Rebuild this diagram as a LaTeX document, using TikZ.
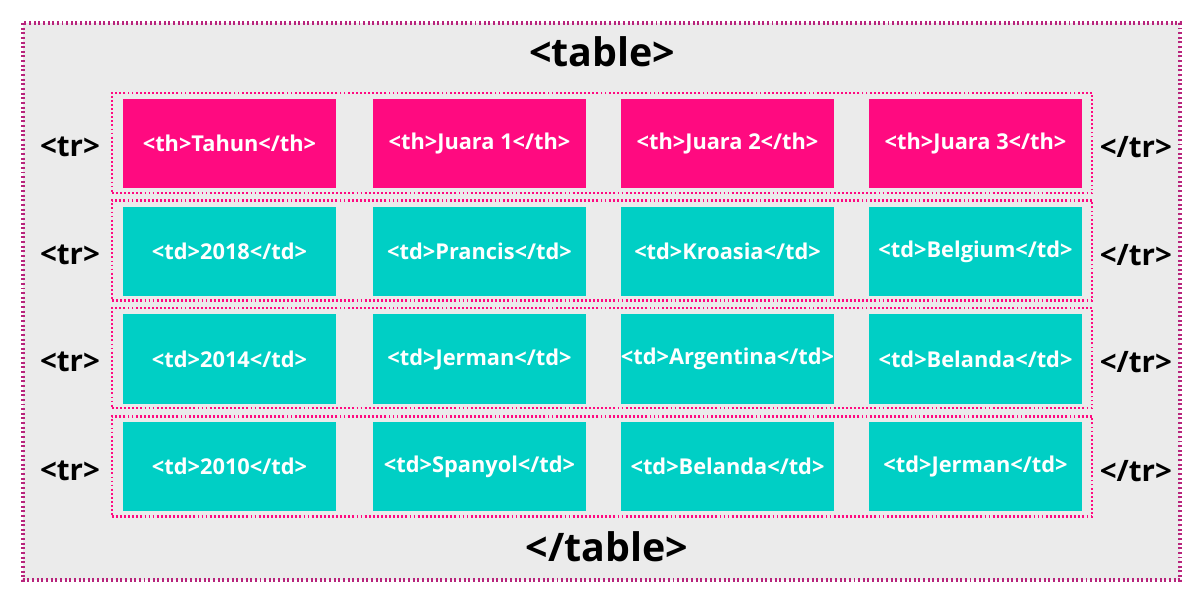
\documentclass[tikz,border=0pt]{standalone}
\usepackage{fontspec}
\setmainfont{Open Sans}
\usetikzlibrary{positioning}
\definecolor{hotpink}{HTML}{FF0A80}
\definecolor{plum}{HTML}{B8247C}
\definecolor{aqua}{HTML}{00CFC5}
\definecolor{ltgray}{HTML}{EBEBEB}

\begin{document}
\begin{tikzpicture}[
  x=0.025cm, y=-0.025cm,
  headcell/.style={
    fill=hotpink, minimum width=5.325cm, minimum height=2.225cm,
    inner sep=0pt, text=white, font=\fontsize{15.5}{18}\selectfont\bfseries
  },
  datacell/.style={
    headcell, fill=aqua
  },
  rowframe/.style={
    draw=hotpink, line width=1.9pt, dash pattern=on 1.3pt off 1.6pt,
    minimum width=24.5cm, minimum height=2.5cm, inner sep=0pt
  },
  taglbl/.style={font=\fontsize{21}{24}\selectfont\bfseries, text=black, yshift=-3pt},
]

% Background
\useasboundingbox (0,0) rectangle (1200,600);
\fill[ltgray] (23,23) rectangle (1180,580);
\draw[plum, line width=2.2pt, dash pattern=on 1.4pt off 1.9pt] (23,23) rectangle (1180,580);

% Title tags
\node[font=\fontsize{28}{32}\selectfont\bfseries] (open) at (602,52) {<table>};
\node[font=\fontsize{28}{32}\selectfont\bfseries] (close) at (607,547) {</table>};

% =============================================
% Row frames
% =============================================
\node[rowframe] (row1) at (602,143) {};
\node[rowframe] (row2) at (602,250.5) {};
\node[rowframe] (row3) at (602,358) {};
\node[rowframe] (row4) at (602,466.5) {};

% Row tags
\node[taglbl, left=4pt of row1.west] (tr1) {<tr>};
\node[taglbl, left=4pt of row2.west] (tr2) {<tr>};
\node[taglbl, left=4pt of row3.west] (tr3) {<tr>};
\node[taglbl, left=4pt of row4.west] (tr4) {<tr>};
\node[taglbl, right=1pt of row1.east] (etr1) {</tr>};
\node[taglbl, right=1pt of row2.east] (etr2) {</tr>};
\node[taglbl, right=1pt of row3.east] (etr3) {</tr>};
\node[taglbl, right=1pt of row4.east] (etr4) {</tr>};

% =============================================
% Header row
% =============================================
\node[headcell] (th1) at (229.5,143.5) {<th>Tahun</th>};
\node[headcell] (th2) at (479.5,143.5) {<th>Juara 1</th>};
\node[headcell] (th3) at (727.5,143.5) {<th>Juara 2</th>};
\node[headcell] (th4) at (975.5,143.5) {<th>Juara 3</th>};

% =============================================
% Data rows
% =============================================
\node[datacell] (a1) at (229.5,251.5) {<td>2018</td>};
\node[datacell] (a2) at (479.5,251.5) {<td>Prancis</td>};
\node[datacell] (a3) at (727.5,251.5) {<td>Kroasia</td>};
\node[datacell] (a4) at (975.5,251.5) {<td>Belgium</td>};

\node[datacell] (b1) at (229.5,359) {<td>2014</td>};
\node[datacell] (b2) at (479.5,359) {<td>Jerman</td>};
\node[datacell] (b3) at (727.5,359) {<td>Argentina</td>};
\node[datacell] (b4) at (975.5,359) {<td>Belanda</td>};

\node[datacell] (c1) at (229.5,466.5) {<td>2010</td>};
\node[datacell] (c2) at (479.5,466.5) {<td>Spanyol</td>};
\node[datacell] (c3) at (727.5,466.5) {<td>Belanda</td>};
\node[datacell] (c4) at (975.5,466.5) {<td>Jerman</td>};

\end{tikzpicture}
\end{document}
